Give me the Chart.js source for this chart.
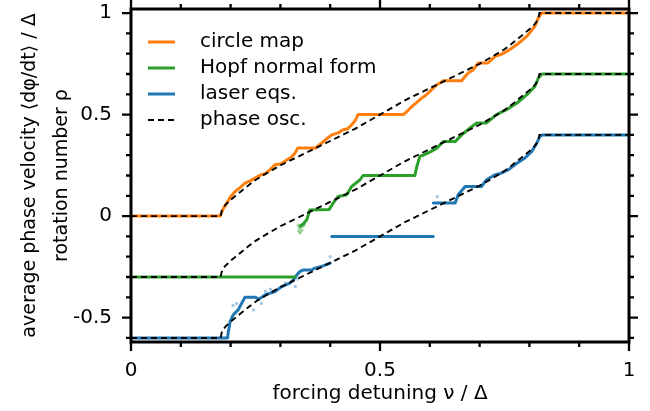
<!DOCTYPE html>
<html>
<head>
<meta charset="utf-8">
<title>Rotation number vs forcing detuning</title>
<script src="https://cdn.jsdelivr.net/npm/chart.js"></script>
<style>
  body { margin: 0; background: #fff; }
</style>
</head>
<body>
<canvas id="chart" width="650" height="411"></canvas>
<script>
// phase oscillator (dashed) - same nu grid for the three shifted copies
const phaseNu = [0, 0.18, 0.182, 0.186, 0.19, 0.195, 0.2, 0.21, 0.22, 0.235, 0.25, 0.275, 0.3, 0.35, 0.4, 0.45, 0.5,
  0.55, 0.6, 0.65, 0.7, 0.725, 0.75, 0.765, 0.78, 0.79, 0.8, 0.805, 0.81, 0.814, 0.818, 0.82, 1];
const phaseRhoCircle = [0, 0, 0.025, 0.044, 0.057, 0.068, 0.08, 0.1, 0.12, 0.15, 0.178, 0.215, 0.25, 0.31, 0.37, 0.43, 0.5,
  0.57, 0.63, 0.69, 0.75, 0.785, 0.822, 0.85, 0.88, 0.9, 0.92, 0.932, 0.943, 0.956, 0.975, 1, 1];
const phaseRhoHopf = [-0.3, -0.3, -0.275, -0.256, -0.243, -0.232, -0.22, -0.2, -0.18, -0.15, -0.122, -0.085, -0.05, 0.01, 0.07, 0.13, 0.2,
  0.27, 0.33, 0.39, 0.45, 0.485, 0.522, 0.55, 0.58, 0.6, 0.62, 0.632, 0.643, 0.656, 0.675, 0.7, 0.7];
const phaseRhoLaser = [-0.6, -0.6, -0.575, -0.556, -0.543, -0.532, -0.52, -0.5, -0.48, -0.45, -0.422, -0.385, -0.35, -0.29, -0.23, -0.17, -0.1,
  -0.03, 0.03, 0.09, 0.15, 0.185, 0.222, 0.25, 0.28, 0.3, 0.32, 0.332, 0.343, 0.356, 0.375, 0.4, 0.4];

// circle map
const circleNu = [0, 0.179, 0.185, 0.192, 0.2, 0.209, 0.219, 0.229, 0.24, 0.249, 0.262, 0.27, 0.279, 0.289, 0.296, 0.303,
  0.315, 0.322, 0.329, 0.335, 0.37, 0.383, 0.395, 0.403, 0.416, 0.426, 0.435, 0.443, 0.45, 0.456, 0.547, 0.556, 0.564,
  0.574, 0.584, 0.592, 0.6, 0.614, 0.62, 0.627, 0.664, 0.67, 0.677, 0.687, 0.697, 0.717, 0.731, 0.742, 0.754, 0.765,
  0.775, 0.785, 0.795, 0.803, 0.811, 0.818, 0.825, 1];
const circleRho = [0, 0, 0.035, 0.064, 0.095, 0.121, 0.14, 0.163, 0.175, 0.187, 0.204, 0.21, 0.228, 0.253, 0.255, 0.26,
  0.28, 0.29, 0.31, 0.335, 0.335, 0.36, 0.385, 0.4, 0.41, 0.425, 0.43, 0.45, 0.47, 0.5, 0.5, 0.52, 0.54,
  0.56, 0.582, 0.595, 0.614, 0.647, 0.655, 0.667, 0.667, 0.685, 0.705, 0.72, 0.754, 0.754, 0.787, 0.795, 0.81, 0.828,
  0.845, 0.865, 0.886, 0.91, 0.935, 0.976, 1, 1];

// Hopf normal form (null = break in the line)
const hopfNu = [0, 0.33, 0.335, 0.34, 0.345, 0.353, 0.359, 0.398, 0.406, 0.416, 0.433, 0.443, 0.46, 0.466, 0.57, 0.574,
  0.58, 0.587, 0.6, 0.614, 0.627, 0.651, 0.664, 0.681, 0.694, 0.714, 0.734, 0.754, 0.775, 0.795, 0.811, 0.818, 0.825, 1];
const hopfRho = [-0.3, -0.3, null, -0.05, -0.04, -0.018, 0.03, 0.033, 0.064, 0.097, 0.105, 0.146, 0.179, 0.2, 0.2, 0.245,
  0.294, 0.3, 0.315, 0.335, 0.367, 0.367, 0.4, 0.434, 0.459, 0.459, 0.5, 0.524, 0.557, 0.598, 0.639, 0.68, 0.7, 0.7];
const hopfDotsNu = [0.336, 0.337, 0.338, 0.34, 0.343, 0.345, 0.348];
const hopfDotsRho = [-0.045, -0.075, -0.06, -0.083, -0.07, -0.05, -0.04];

// laser equations
const laserNu = [0, 0.194, 0.195, 0.199, 0.205, 0.215, 0.222, 0.229, 0.25, 0.256, 0.269, 0.289, 0.303, 0.319, 0.326, 0.333,
  0.339, 0.346, 0.363, 0.369, 0.383, 0.4, 0.401, 0.403, 0.607, 0.6071, 0.6072, 0.651, 0.657, 0.671, 0.704, 0.714, 0.731,
  0.742, 0.758, 0.775, 0.791, 0.805, 0.815, 0.821, 0.827, 1];
const laserRho = [-0.6, -0.6, -0.577, -0.52, -0.487, -0.462, -0.43, -0.4, -0.4, -0.41, -0.388, -0.372, -0.347, -0.33, -0.314, -0.29,
  -0.273, -0.265, -0.265, -0.256, -0.248, -0.232, null, -0.1, -0.1, null, 0.064, 0.064, 0.105, 0.146, 0.146, 0.179, 0.204,
  0.21, 0.229, 0.26, 0.286, 0.319, 0.36, 0.393, 0.4, 0.4];
const laserDotsNu = [0.205, 0.212, 0.246, 0.262, 0.27, 0.28, 0.31, 0.33, 0.335, 0.4, 0.615];
const laserDotsRho = [-0.44, -0.43, -0.462, -0.43, -0.37, -0.36, -0.33, -0.347, -0.31, -0.2, 0.095];

const xTicks = [0, 0.5, 1];
const xMinor = [0.1, 0.2, 0.3, 0.4, 0.6, 0.7, 0.8, 0.9];
const yTicks = [-0.5, 0, 0.5, 1];
const yMinor = [-0.6, -0.4, -0.3, -0.2, -0.1, 0.1, 0.2, 0.3, 0.4, 0.6, 0.7, 0.8, 0.9];

const ORANGE = '#ff7f0e', GREEN = '#2ca02c', BLUE = '#1f77b4';
const DASH = [6, 4];

function pts(nu, rho) {
  return nu.map((v, i) => ({ x: v, y: rho[i] }));
}

function solid(label, nu, rho, color) {
  return { label: label, data: pts(nu, rho), borderColor: color, borderWidth: 3,
    pointRadius: 0, order: 2, borderJoinStyle: 'round', borderCapStyle: 'round' };
}
function dashed(nu, rho) {
  return { label: 'phase osc.', data: pts(nu, rho), borderColor: '#000', borderWidth: 1.9,
    borderDash: DASH, pointRadius: 0, order: 0 };
}
function dots(nu, rho, color) {
  return { label: '', data: pts(nu, rho), showLine: false, pointRadius: 1.7, borderWidth: 0,
    pointBackgroundColor: color, order: 1 };
}

// legend inside the axes, top left
const legendItems = [
  { text: 'circle map', color: ORANGE, dash: [] },
  { text: 'Hopf normal form', color: GREEN, dash: [] },
  { text: 'laser eqs.', color: BLUE, dash: [] },
  { text: 'phase osc.', color: '#000', dash: DASH }
];

const innerLegend = {
  id: 'innerLegend',
  afterDraw(chart) {
    const ctx = chart.ctx, a = chart.chartArea;
    ctx.save();
    ctx.font = '20px "DejaVu Sans"';
    ctx.textBaseline = 'middle';
    ctx.fillStyle = '#000';
    legendItems.forEach((it, i) => {
      const yy = a.top + 33 + i * 26;
      ctx.strokeStyle = it.color;
      ctx.lineWidth = it.dash.length ? 1.9 : 3;
      ctx.setLineDash(it.dash);
      ctx.beginPath();
      ctx.moveTo(a.left + 17, yy);
      ctx.lineTo(a.left + 44, yy);
      ctx.stroke();
      ctx.setLineDash([]);
      ctx.fillText(it.text, a.left + 69, yy);
    });
    ctx.restore();
  }
};

// box around the axes with ticks pointing out on all four sides
const frameTicks = {
  id: 'frameTicks',
  afterDraw(chart) {
    const ctx = chart.ctx, a = chart.chartArea;
    const x = chart.scales.x, y = chart.scales.y;
    ctx.save();
    ctx.strokeStyle = '#000';
    ctx.lineWidth = 2.3;
    ctx.beginPath();
    const xt = (v, len) => {
      const p = x.getPixelForValue(v);
      ctx.moveTo(p, a.bottom); ctx.lineTo(p, a.bottom + len);
      ctx.moveTo(p, a.top); ctx.lineTo(p, a.top - len);
    };
    const yt = (v, len) => {
      const p = y.getPixelForValue(v);
      ctx.moveTo(a.left, p); ctx.lineTo(a.left - len, p);
      ctx.moveTo(a.right, p); ctx.lineTo(a.right + len, p);
    };
    xTicks.forEach(v => xt(v, 9));
    xMinor.forEach(v => xt(v, 5));
    yTicks.forEach(v => yt(v, 9));
    yMinor.forEach(v => yt(v, 5));
    ctx.stroke();
    ctx.lineWidth = 3;
    ctx.strokeRect(a.left, a.top, a.right - a.left, a.bottom - a.top);
    ctx.restore();
  }
};

Chart.defaults.font.family = '"DejaVu Sans"';
Chart.defaults.font.size = 20;
Chart.defaults.color = '#000';

new Chart(document.getElementById('chart'), {
  type: 'line',
  data: {
    datasets: [
      dashed(phaseNu, phaseRhoCircle),
      dashed(phaseNu, phaseRhoHopf),
      dashed(phaseNu, phaseRhoLaser),
      solid('circle map', circleNu, circleRho, ORANGE),
      solid('Hopf normal form', hopfNu, hopfRho, GREEN),
      solid('laser eqs.', laserNu, laserRho, BLUE),
      dots(hopfDotsNu, hopfDotsRho, 'rgba(44,160,44,0.45)'),
      dots(laserDotsNu, laserDotsRho, 'rgba(31,119,180,0.4)')
    ]
  },
  options: {
    responsive: false,
    animation: false,
    devicePixelRatio: 1,
    spanGaps: false,
    layout: { padding: { top: 9, right: 21, left: 0, bottom: 0 } },
    plugins: { legend: { display: false }, tooltip: { enabled: false } },
    scales: {
      x: {
        type: 'linear', min: 0, max: 1,
        grid: { display: false, drawTicks: false },
        border: { display: false },
        afterBuildTicks: s => { s.ticks = xTicks.map(v => ({ value: v })); },
        afterFit: s => { s.height = 69; s.paddingLeft = 0; s.paddingRight = 0; },
        ticks: { padding: 17, maxRotation: 0, autoSkip: false, callback: v => String(v) },
        title: { display: true, text: 'forcing detuning ν / Δ', padding: { top: 0, bottom: 5 } }
      },
      y: {
        type: 'linear', min: -0.62, max: 1.02,
        grid: { display: false, drawTicks: false },
        border: { display: false },
        afterBuildTicks: s => { s.ticks = yTicks.map(v => ({ value: v })); },
        afterFit: s => { s.width = 131; s.paddingTop = 0; s.paddingBottom = 0; },
        ticks: { padding: 19, autoSkip: false, callback: v => String(v) },
        title: {
          display: true,
          text: ['average phase velocity ⟨dφ/dt⟩ / Δ', 'rotation number ρ'],
          font: { size: 19, lineHeight: 1.7 },
          padding: { top: 14, bottom: 0 }
        }
      }
    }
  },
  plugins: [frameTicks, innerLegend]
});
</script>
</body>
</html>
